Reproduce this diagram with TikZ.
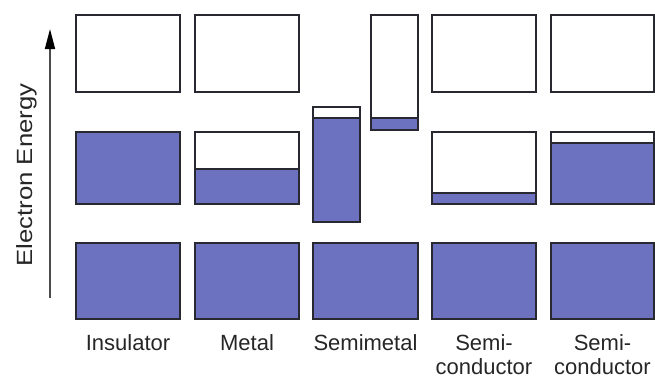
\documentclass[tikz,border=0pt]{standalone}
\usepackage{fontspec}
\setmainfont{Liberation Sans}
\usetikzlibrary{arrows.meta}
\definecolor{bandblue}{RGB}{108,114,192}
\definecolor{edgegray}{RGB}{40,40,48}
\tikzset{
  bandedge/.style={draw=edgegray,line width=1.8pt},
  lbl/.style={font=\fontsize{22}{24}\selectfont, text=black!85, inner sep=0pt, anchor=base},
}
\newcommand\bandbox[5]{%
  \fill[bandblue] (#1,#4) rectangle (#2,#5);
  \draw[bandedge] (#1,#4) -- (#2,#4);
  \draw[bandedge] (#1,#3) rectangle (#2,#5);
}
\begin{document}
\begin{tikzpicture}[x=1pt,y=-1pt]
\useasboundingbox (0,0) rectangle (655,378);
% Insulator
\bandbox{76}{180}{15}{92}{92}
\bandbox{76}{180}{132}{132}{204}
\bandbox{76}{180}{243}{243}{319}
% Metal
\bandbox{195}{299}{15}{92}{92}
\bandbox{195}{299}{132}{169}{204}
\bandbox{195}{299}{243}{243}{319}
% Semimetal
\bandbox{313}{360}{107}{118}{222}
\bandbox{371}{418}{15}{118}{130}
\bandbox{313}{418}{243}{243}{319}
% Semiconductor
\bandbox{432}{536}{15}{92}{92}
\bandbox{432}{536}{132}{193}{204}
\bandbox{432}{536}{243}{243}{319}
% Semiconductor 2
\bandbox{551}{654}{15}{92}{92}
\bandbox{551}{654}{132}{143}{204}
\bandbox{551}{654}{243}{243}{319}
% axis
\coordinate (ebot) at (50,298);
\coordinate (etop) at (50,29);
\draw[black!70,line width=1.5pt,-{Triangle[length=20pt,width=10pt,color=black]}] (ebot) -- (etop);
\node[lbl,rotate=90] (energy) at (32,175) {\scalebox{1.17}[1]{Electron Energy}};
% labels
\node[lbl] (ins) at (128,350) {Insulator};
\node[lbl] (met) at (247,350) {Metal};
\node[lbl] (smet) at (365.5,350) {Semimetal};
\node[lbl] (sc1a) at (484,350) {Semi-};
\node[lbl] (sc1b) at (484,374) {conductor};
\node[lbl] (sc2a) at (602.5,350) {Semi-};
\node[lbl] (sc2b) at (602.5,374) {conductor};
\end{tikzpicture}
\end{document}
